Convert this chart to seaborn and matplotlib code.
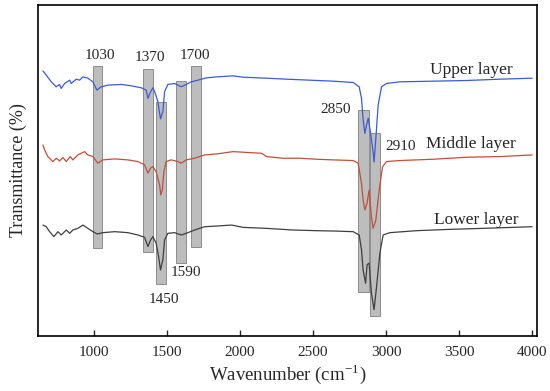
import pandas as pd
import matplotlib.pyplot as plt
import seaborn as sns

# spectra (wavenumber, relative transmittance)
upper_x = [651, 673, 708, 742, 765, 776, 800, 834, 845, 879, 902, 925, 959, 993, 1020, 1050,
           1096, 1187, 1255, 1324, 1358, 1370, 1388, 1404, 1420, 1438, 1456, 1472, 1484, 1506,
           1552, 1598, 1632, 1666, 1712, 1769, 1840, 1953, 2022, 2182, 2319, 2478, 2638, 2775,
           2816, 2832, 2843, 2855, 2866, 2878, 2893, 2911, 2918, 2930, 2946, 2969, 3003, 3094,
           3322, 3551, 3779, 4000]
upper_y = [80.1, 78.9, 76.8, 75.3, 76.0, 74.8, 76.3, 77.3, 76.3, 77.6, 77.3, 78.3, 77.9, 76.8,
           74.3, 75.3, 75.8, 76.0, 75.6, 75.0, 74.3, 71.8, 73.8, 75.0, 73.3, 70.8, 65.6, 67.8,
           73.8, 76.0, 76.3, 75.3, 76.0, 76.8, 77.3, 78.0, 78.3, 78.6, 78.2, 77.9, 77.6, 77.3,
           77.0, 76.6, 75.3, 71.8, 65.3, 61.2, 63.7, 65.8, 61.7, 55.7, 52.6, 59.7, 69.8, 75.3,
           76.3, 76.8, 77.0, 77.2, 77.6, 77.9]

middle_x = [651, 663, 685, 719, 742, 765, 788, 811, 838, 856, 890, 936, 959, 993, 1027, 1062,
            1142, 1233, 1301, 1347, 1370, 1388, 1404, 1426, 1450, 1458, 1468, 1479, 1495, 1529,
            1575, 1598, 1632, 1689, 1758, 1840, 1953, 2068, 2148, 2182, 2296, 2410, 2524, 2638,
            2775, 2809, 2832, 2843, 2855, 2870, 2884, 2900, 2911, 2930, 2953, 2976, 3003, 3094,
            3322, 3551, 3779, 4000]
middle_y = [57.7, 56.2, 54.2, 52.7, 53.7, 52.9, 53.9, 52.7, 54.2, 53.2, 54.7, 55.7, 54.7, 54.2,
            52.2, 53.2, 53.5, 53.2, 52.7, 51.7, 49.2, 50.7, 51.2, 49.6, 45.6, 42.6, 44.1, 49.6,
            52.7, 53.2, 52.7, 52.2, 53.2, 53.7, 54.7, 55.0, 55.7, 55.4, 55.2, 54.2, 53.7, 53.7,
            53.4, 53.2, 53.0, 52.2, 46.1, 41.1, 38.1, 40.1, 44.1, 36.0, 32.5, 35.0, 44.1, 51.1,
            52.7, 53.0, 53.4, 54.0, 54.2, 54.7]

lower_x = [651, 674, 697, 726, 754, 776, 811, 834, 856, 890, 925, 959, 993, 1023, 1062, 1142,
           1233, 1301, 1347, 1370, 1388, 1404, 1426, 1443, 1456, 1472, 1484, 1506, 1552, 1598,
           1632, 1689, 1758, 1840, 1943, 2022, 2182, 2364, 2524, 2638, 2775, 2816, 2832, 2843,
           2860, 2870, 2884, 2900, 2918, 2935, 2958, 2980, 3026, 3208, 3437, 3665, 4000]
lower_y = [33.5, 33.0, 31.5, 30.0, 31.5, 30.5, 32.0, 31.0, 32.0, 32.5, 33.5, 32.5, 31.5, 30.8,
           31.2, 31.5, 31.2, 30.5, 29.8, 27.0, 29.0, 30.0, 28.0, 24.0, 19.9, 23.0, 29.0, 31.0,
           31.2, 30.5, 31.0, 32.0, 33.0, 33.2, 33.5, 32.8, 32.5, 32.0, 31.8, 31.7, 31.5, 30.5,
           26.0, 19.9, 15.9, 21.5, 22.0, 12.9, 7.9, 14.9, 25.0, 30.5, 31.2, 31.8, 32.2, 32.5,
           33.0]

# marked absorption bands
band_labels = ["1030", "1370", "1450", "1590", "1700", "2850", "2910"]
band_lo = [991, 1337, 1424, 1563, 1666, 2811, 2889]
band_hi = [1053, 1408, 1491, 1632, 1730, 2880, 2957]
band_top = [81.7, 80.6, 70.8, 77.0, 81.7, 68.3, 61.2]
band_bottom = [26.5, 25.5, 15.7, 22.0, 26.8, 13.3, 6.1]

layers = ["Upper layer", "Middle layer", "Lower layer"]

df = pd.concat([
    pd.DataFrame({"wn": upper_x, "T": upper_y, "layer": layers[0]}),
    pd.DataFrame({"wn": middle_x, "T": middle_y, "layer": layers[1]}),
    pd.DataFrame({"wn": lower_x, "T": lower_y, "layer": layers[2]}),
])

sns.set_style("ticks")
plt.rcParams["font.family"] = ["Liberation Serif", "DejaVu Serif"]
plt.rcParams["mathtext.fontset"] = "stix"

fig = plt.figure(figsize=(5.5, 3.91), dpi=100)
ax = fig.add_axes([0.069, 0.141, 0.907, 0.846])

# gray bands behind spectra
for lo, hi, top, bot in zip(band_lo, band_hi, band_top, band_bottom):
    ax.add_patch(plt.Rectangle((lo, bot), hi - lo, top - bot, facecolor="#bdbdbd",
                               edgecolor="#808080", linewidth=0.6, zorder=1))

palette = {"Upper layer": "#3b5bd6", "Middle layer": "#c0503a", "Lower layer": "#3f3f3f"}
sns.lineplot(data=df, x="wn", y="T", hue="layer", palette=palette, sort=False,
             estimator=None, linewidth=0.9, legend=False, ax=ax)
for line in ax.lines:
    line.set_zorder(3)

# band labels
fs = 11
ax.text(1044, 84.9, "1030", ha="center", va="center", fontsize=fs)
ax.text(1381, 84.1, "1370", ha="center", va="center", fontsize=fs)
ax.text(1695, 84.9, "1700", ha="center", va="center", fontsize=fs)
ax.text(2759, 68.3, "2850", ha="right", va="center", fontsize=fs)
ax.text(2992, 57.2, "2910", ha="left", va="center", fontsize=fs)
ax.text(1630, 19.1, "1590", ha="center", va="center", fontsize=fs)
ax.text(1476, 10.9, "1450", ha="center", va="center", fontsize=fs)

ax.text(3587, 80.4, "Upper layer", ha="center", va="center", fontsize=12.5)
ax.text(3580, 58.0, "Middle layer", ha="center", va="center", fontsize=12.5)
ax.text(3615, 35.0, "Lower layer", ha="center", va="center", fontsize=12.5)

ax.set_xlim(617, 4032)
ax.set_ylim(0, 100)
ax.set_xticks([1000, 1500, 2000, 2500, 3000, 3500, 4000])
ax.set_yticks([])
ax.tick_params(axis="x", direction="in", length=4, width=1, labelsize=11, pad=7)
for s in ax.spines.values():
    s.set_linewidth(1.2)
    s.set_color("black")

ax.set_xlabel("Wavenumber (cm$^{\\mathregular{-1}}$)", fontsize=13.5, labelpad=3)
ax.set_ylabel("Transmittance (%)", fontsize=13, labelpad=8)

fig.savefig("out.png", dpi=100)
